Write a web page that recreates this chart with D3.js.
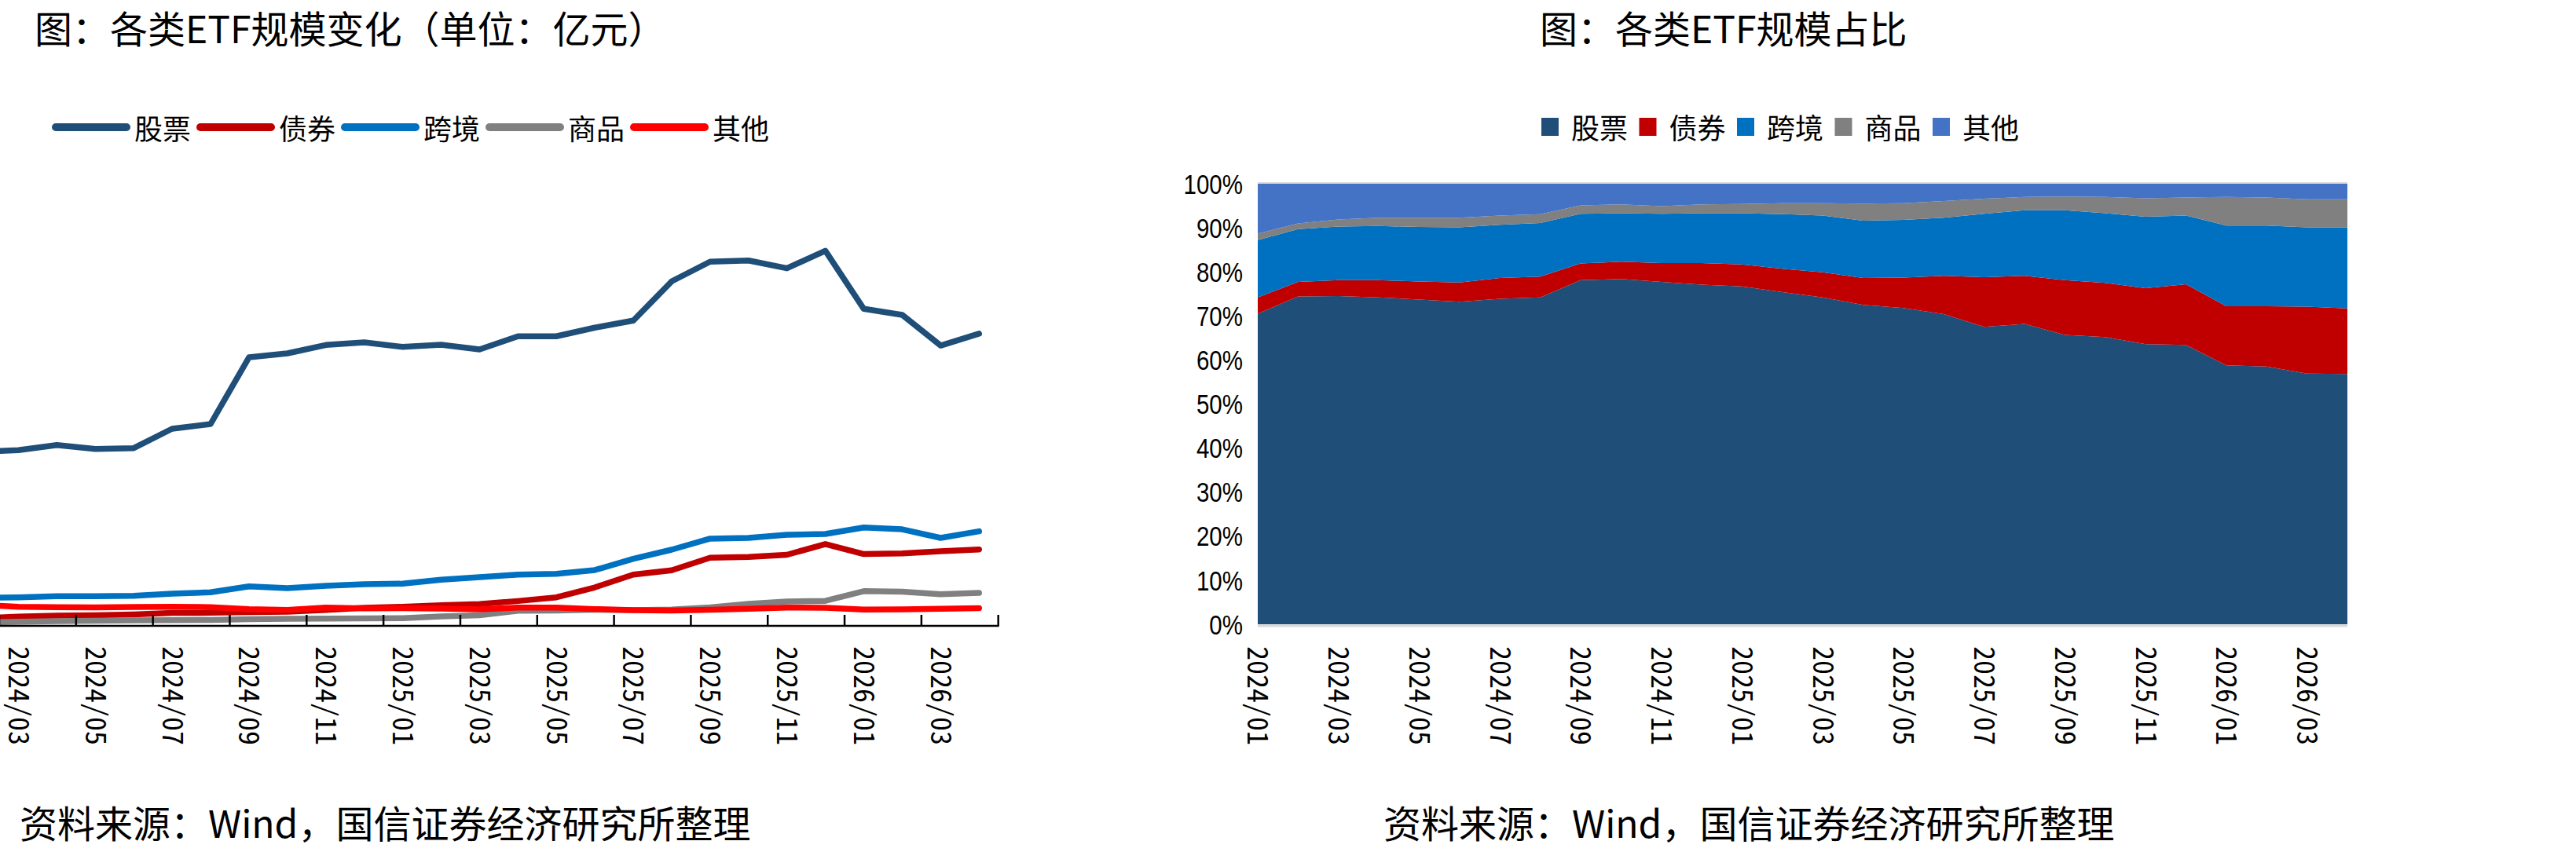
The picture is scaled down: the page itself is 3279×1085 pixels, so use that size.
<!DOCTYPE html>
<html lang="zh">

<head>
  <meta charset="UTF-8">
  <title>各类ETF规模</title>
  <script src="https://d3js.org/d3.v7.min.js"></script>
  <style>
    body {
      margin: 0;
      background: #fff;
    }

    .cjk {
      font-family: "Noto Sans CJK SC", "Noto Sans", sans-serif;
      fill: #000;
    }

    .mono {
      font-family: "Noto Sans Mono CJK SC", "DejaVu Sans Mono", monospace;
      fill: #000;
    }

    .narrow {
      font-family: "Liberation Sans Narrow", "Arial Narrow", "Liberation Sans", sans-serif;
      fill: #000;
    }
  </style>
</head>

<body>
  <div id="chart"></div>
</body>
<script>
  // months shown on both charts
  var months = ["2024/01", "2024/02", "2024/03", "2024/04", "2024/05", "2024/06", "2024/07",
    "2024/08", "2024/09", "2024/10", "2024/11", "2024/12", "2025/01", "2025/02", "2025/03",
    "2025/04", "2025/05", "2025/06", "2025/07", "2025/08", "2025/09", "2025/10", "2025/11",
    "2025/12", "2026/01", "2026/02", "2026/03", "2026/04"];

  var seriesNames = ["股票", "债券", "跨境", "商品", "其他"];
  var lineColors = ["#1F4E79", "#C00000", "#0070C0", "#808080", "#FF0000"];
  var areaColors = ["#1F4E79", "#C00000", "#0070C0", "#808080", "#4472C4"];

  // left chart: scale, 亿元
  var stockVal = [17800, 18800, 18960, 19520, 19090, 19180, 21270, 21780, 28980, 29410, 30310, 30590, 30110, 30340,
    29830, 31250, 31250, 32180, 32940, 37180, 39300, 39430, 38590, 40480, 34210, 33560, 30250, 31530];
  var bondVal = [930, 830, 1000, 1100, 1150, 1230, 1400, 1410, 1480, 1520, 1720, 1945, 2050, 2220,
    2350, 2680, 3080, 4150, 5530, 6000, 7350, 7435, 7670, 8830, 7750, 7820, 8050, 8250];
  var crossVal = [3280, 3040, 3080, 3200, 3200, 3250, 3480, 3620, 4260, 4070, 4320, 4490, 4550, 4980,
    5250, 5530, 5620, 6020, 7230, 8220, 9410, 9490, 9830, 9920, 10620, 10420, 9490, 10200];
  var commVal = [380, 330, 450, 500, 550, 590, 620, 640, 720, 760, 780, 800, 830, 1010,
    1140, 1630, 1660, 1740, 1700, 1750, 2000, 2380, 2630, 2700, 3740, 3690, 3410, 3555];
  var otherVal = [2850, 2280, 2060, 2010, 2000, 2040, 2065, 2010, 1800, 1715, 1970, 1895, 1900, 1860,
    1775, 1970, 1960, 1810, 1690, 1650, 1730, 1840, 1975, 1950, 1765, 1780, 1850, 1900];

  // right chart: share, %
  var stockPct = [70.5, 74.4, 74.5, 74.2, 73.7, 73.2, 73.9, 74.2, 78.1, 78.4, 77.7, 77.1, 76.7, 75.4,
    74.2, 72.5, 71.8, 70.4, 67.5, 68.2, 65.7, 65.2, 63.6, 63.4, 58.8, 58.5, 56.9, 56.8];
  var bondPct = [3.7, 3.3, 3.6, 3.9, 4.1, 4.4, 4.7, 4.7, 3.8, 3.9, 4.3, 4.9, 5.0, 5.3,
    5.7, 6.1, 6.9, 8.7, 11.3, 10.9, 12.4, 12.3, 12.7, 13.8, 13.4, 13.7, 15.2, 14.9];
  var crossPct = [13.0, 12.0, 12.2, 12.3, 12.4, 12.5, 12.1, 12.2, 11.3, 11.0, 11.2, 11.3, 11.6, 12.4,
    12.9, 13.0, 13.1, 13.2, 14.4, 14.9, 15.9, 15.8, 16.2, 15.6, 18.3, 18.3, 18.0, 18.4];
  var commPct = [1.5, 1.3, 1.6, 1.9, 2.1, 2.2, 2.1, 2.0, 1.9, 2.0, 1.7, 2.0, 2.1, 2.5,
    2.8, 3.9, 3.8, 3.8, 3.4, 3.0, 3.1, 3.7, 4.2, 4.1, 6.5, 6.4, 6.4, 6.4];
  var otherPct = [11.3, 9.0, 8.1, 7.7, 7.7, 7.7, 7.2, 6.9, 4.9, 4.7, 5.1, 4.7, 4.6, 4.4,
    4.4, 4.5, 4.4, 3.9, 3.4, 3.0, 2.9, 3.0, 3.3, 3.1, 3.0, 3.1, 3.5, 3.5];

  var yTicksPct = [0, 0.1, 0.2, 0.3, 0.4, 0.5, 0.6, 0.7, 0.8, 0.9, 1];

  var svg = d3.select("#chart").append("svg")
    .attr("width", 3279)
    .attr("height", 1085);

  var sourceText = "资料来源：Wind，国信证券经济研究所整理";

  // ****************** left chart: lines ***************************
  var left = svg.append("g");

  var x1 = d3.scalePoint().domain(months).range([-98.8, 1270.7]).padding(0.5);
  var y1 = d3.scaleLinear().domain([0, 50000]).range([797, 207]);
  var step1 = x1.step();

  left.append("text").attr("class", "cjk")
    .attr("x", 44).attr("y", 34)
    .attr("dominant-baseline", "central")
    .style("font-size", "48px")
    .text("图：各类ETF规模变化（单位：亿元）");

  // legend
  seriesNames.forEach(function (name, i) {
    var lx = 71 + i * 184;
    left.append("line")
      .attr("x1", lx).attr("x2", lx + 90)
      .attr("y1", 162).attr("y2", 162)
      .attr("stroke", lineColors[i])
      .attr("stroke-width", 10)
      .attr("stroke-linecap", "round");
    left.append("text").attr("class", "cjk")
      .attr("x", lx + 100).attr("y", 162)
      .attr("dominant-baseline", "central")
      .style("font-size", "36px")
      .text(name);
  });

  var lineValues = [stockVal, bondVal, crossVal, commVal, otherVal];
  var line = d3.line()
    .x(function (d, i) { return x1(months[i]); })
    .y(function (d) { return y1(d); });

  lineValues.forEach(function (vals, i) {
    left.append("path")
      .attr("d", line(vals))
      .attr("fill", "none")
      .attr("stroke", lineColors[i])
      .attr("stroke-width", 7.5)
      .attr("stroke-linejoin", "round")
      .attr("stroke-linecap", "round");
  });

  // x axis: ticks every two months, pointing inwards
  var tickPos = [];
  months.forEach(function (m, i) {
    if (i % 2 === 0) tickPos.push(x1(m) - step1 / 2);
  });
  tickPos.push(x1(months[months.length - 1]) + step1 / 2);

  left.append("line")
    .attr("x1", 0).attr("x2", tickPos[tickPos.length - 1] + 1)
    .attr("y1", 797).attr("y2", 797)
    .attr("stroke", "#000").attr("stroke-width", 2.5);

  left.selectAll(".tick1").data(tickPos).enter().append("line")
    .attr("x1", function (d) { return d; }).attr("x2", function (d) { return d; })
    .attr("y1", 797).attr("y2", 783)
    .attr("stroke", "#000").attr("stroke-width", 2.5);

  // the left edge of this chart is cut off, so 2024/01 is not shown
  left.selectAll(".lab1").data(months.filter(function (m, i) { return i % 2 === 0 && x1(m) > 0; }))
    .enter().append("text").attr("class", "mono")
    .attr("transform", function (d) { return "translate(" + x1(d) + ",823) rotate(90)"; })
    .attr("dy", "0.35em")
    .style("font-size", "36px")
    .text(function (d) { return d; });

  left.append("text").attr("class", "cjk")
    .attr("x", 25).attr("y", 1046)
    .attr("dominant-baseline", "central")
    .style("font-size", "48px")
    .text(sourceText);

  // ****************** right chart: 100% stacked area ***************************
  var right = svg.append("g");

  var x2 = d3.scalePoint().domain(months).range([1601, 2988]);
  var y2 = d3.scaleLinear().domain([0, 1]).range([795, 234]);

  right.append("text").attr("class", "cjk")
    .attr("x", 1960).attr("y", 34)
    .attr("dominant-baseline", "central")
    .style("font-size", "48px")
    .text("图：各类ETF规模占比");

  seriesNames.forEach(function (name, i) {
    var lx = 1962 + i * 124.5;
    right.append("rect")
      .attr("x", lx).attr("y", 150)
      .attr("width", 22).attr("height", 23)
      .attr("fill", areaColors[i]);
    right.append("text").attr("class", "cjk")
      .attr("x", lx + 38).attr("y", 161)
      .attr("dominant-baseline", "central")
      .style("font-size", "36px")
      .text(name);
  });

  var pctValues = [stockPct, bondPct, crossPct, commPct, otherPct];
  var rows = months.map(function (m, i) {
    var r = { month: m };
    seriesNames.forEach(function (name, j) { r[name] = pctValues[j][i]; });
    return r;
  });

  var stacked = d3.stack().keys(seriesNames).offset(d3.stackOffsetExpand)(rows);

  // top and bottom lines
  right.append("line")
    .attr("x1", 1601).attr("x2", 2988)
    .attr("y1", y2(1) - 1).attr("y2", y2(1) - 1)
    .attr("stroke", "#d9d9d9").attr("stroke-width", 2);

  var area = d3.area()
    .x(function (d) { return x2(d.data.month); })
    .y0(function (d) { return y2(d[0]); })
    .y1(function (d) { return y2(d[1]); });

  right.selectAll(".layer").data(stacked).enter().append("path")
    .attr("d", area)
    .attr("fill", function (d, i) { return areaColors[i]; });

  right.append("line")
    .attr("x1", 1601).attr("x2", 2988)
    .attr("y1", 797).attr("y2", 797)
    .attr("stroke", "#d9d9d9").attr("stroke-width", 3);

  right.selectAll(".ylab").data(yTicksPct).enter().append("text").attr("class", "narrow")
    .attr("transform", function (d) { return "translate(1582," + y2(d) + ") scale(0.82,1)"; })
    .attr("text-anchor", "end")
    .attr("dy", "0.35em")
    .style("font-size", "36px")
    .text(function (d) { return d3.format(".0%")(d); });

  right.selectAll(".lab2").data(months.filter(function (m, i) { return i % 2 === 0 && i < 27; }))
    .enter().append("text").attr("class", "mono")
    .attr("transform", function (d) { return "translate(" + x2(d) + ",823) rotate(90)"; })
    .attr("dy", "0.35em")
    .style("font-size", "36px")
    .text(function (d) { return d; });

  right.append("text").attr("class", "cjk")
    .attr("x", 1761).attr("y", 1046)
    .attr("dominant-baseline", "central")
    .style("font-size", "48px")
    .text(sourceText);
</script>

</html>
